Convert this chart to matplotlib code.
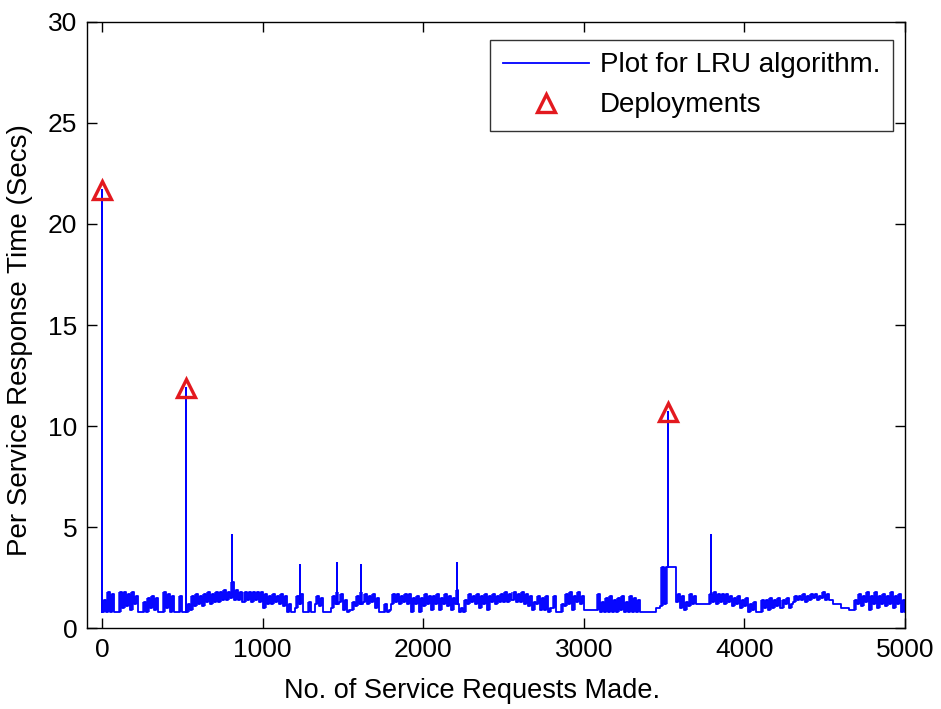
import matplotlib
matplotlib.use("Agg")
import matplotlib.pyplot as plt

plt.rcParams['font.family'] = ['Liberation Sans', 'DejaVu Sans']

# Binned readings: each bin covers 25 requests; lo / hi = low and high response time seen in the bin
bin_width = 25
bin_lo = [
    0.8, 0.8, 0.8, 0.8, 0.8, 1.0, 1.1, 0.9, 1.2, 0.8,
    0.8, 0.8, 1.0, 0.9, 0.8, 0.8, 1.0, 0.8, 0.8, 0.8,
    0.8, 0.8, 0.9, 1.1, 1.2, 1.1, 1.3, 1.2, 1.3, 1.3,
    1.4, 1.4, 1.5, 1.4, 1.4, 1.3, 1.4, 1.3, 1.4, 1.3,
    1.0, 1.2, 1.2, 1.3, 1.2, 1.1, 0.8, 0.8, 1.0, 1.2,
    0.8, 0.8, 0.8, 1.2, 1.1, 0.8, 0.8, 1.0, 1.2, 1.3,
    0.9, 0.8, 0.9, 1.1, 1.2, 1.3, 1.2, 1.3, 1.0, 0.8,
    0.8, 0.8, 1.2, 1.3, 1.2, 1.3, 1.2, 0.8, 1.2, 0.8,
    1.1, 1.2, 0.9, 1.2, 0.9, 1.2, 1.1, 0.9, 1.2, 0.8,
    0.8, 1.2, 1.3, 1.2, 1.0, 1.2, 0.9, 1.3, 1.2, 1.3,
    1.3, 1.3, 1.4, 1.3, 1.3, 1.2, 1.1, 0.9, 1.2, 0.9,
    0.9, 0.8, 1.0, 0.8, 0.8, 1.1, 1.2, 0.9, 1.3, 1.2,
    0.9, 0.9, 0.9, 0.9, 0.8, 0.8, 0.8, 0.8, 0.8, 0.9,
    0.8, 0.8, 0.8, 0.8, 0.8, 0.8, 0.8, 0.8, 1.0, 1.1,
    1.2, 3.0, 3.0, 1.3, 1.0, 0.9, 1.1, 1.2, 1.2, 1.2,
    1.2, 1.2, 1.3, 1.2, 1.3, 1.2, 1.3, 1.1, 1.2, 1.0,
    1.1, 0.8, 0.9, 0.8, 0.8, 1.0, 0.9, 1.0, 1.1, 1.0,
    1.2, 1.0, 1.3, 1.4, 1.4, 1.3, 1.4, 1.5, 1.4, 1.5,
    1.4, 1.4, 1.2, 1.2, 1.0, 1.0, 0.9, 0.9, 1.2, 1.1,
    1.3, 0.9, 1.2, 1.0, 1.2, 1.1, 1.2, 1.0, 1.2, 0.8,
]
bin_hi = [
    1.4, 1.8, 1.7, 0.8, 1.8, 1.8, 1.7, 1.8, 1.6, 0.8,
    1.3, 1.5, 1.6, 1.5, 0.8, 1.8, 1.7, 1.6, 0.8, 1.6,
    0.8, 1.2, 1.6, 1.7, 1.6, 1.7, 1.8, 1.7, 1.8, 1.8,
    1.9, 1.8, 2.3, 1.9, 1.8, 1.8, 1.8, 1.8, 1.8, 1.8,
    1.7, 1.6, 1.7, 1.6, 1.7, 1.6, 1.2, 0.8, 1.6, 1.7,
    0.8, 1.3, 0.8, 1.6, 1.5, 0.8, 0.8, 1.6, 1.8, 1.7,
    1.4, 0.9, 1.3, 1.6, 1.8, 1.7, 1.6, 1.7, 1.5, 0.8,
    1.2, 0.9, 1.7, 1.7, 1.6, 1.7, 1.7, 1.5, 1.6, 1.5,
    1.7, 1.6, 1.6, 1.7, 1.5, 1.7, 1.6, 1.5, 1.9, 1.0,
    1.4, 1.7, 1.6, 1.7, 1.6, 1.7, 1.6, 1.7, 1.6, 1.7,
    1.8, 1.7, 1.8, 1.7, 1.8, 1.7, 1.6, 1.3, 1.6, 1.5,
    1.6, 1.0, 1.6, 0.8, 1.2, 1.7, 1.8, 1.6, 1.8, 1.6,
    0.9, 0.9, 0.9, 1.7, 1.3, 1.5, 1.6, 1.4, 1.5, 1.6,
    1.3, 1.6, 1.5, 1.4, 0.8, 0.8, 0.8, 0.8, 1.0, 3.0,
    3.0, 3.0, 3.0, 1.7, 1.6, 1.3, 1.7, 1.6, 1.2, 1.2,
    1.2, 1.7, 1.8, 1.7, 1.7, 1.7, 1.6, 1.5, 1.6, 1.4,
    1.5, 1.2, 1.3, 0.8, 1.4, 1.4, 1.5, 1.4, 1.5, 1.4,
    1.5, 1.2, 1.6, 1.6, 1.7, 1.6, 1.7, 1.7, 1.6, 1.8,
    1.7, 1.4, 1.2, 1.2, 1.0, 1.0, 0.9, 1.4, 1.7, 1.6,
    1.8, 1.6, 1.8, 1.6, 1.7, 1.6, 1.8, 1.6, 1.7, 1.4,
]

# Isolated spikes (request index, response time)
spike_x = [807, 1230, 1461, 1611, 2212, 3790]
spike_y = [4.6, 3.1, 3.2, 3.1, 3.2, 4.6]

# Deployments (marked with triangles)
deploy_x = [0, 521, 3524]
deploy_y = [21.7, 11.9, 10.7]

# Assemble the series
pts = []
for i, (lo, hi) in enumerate(zip(bin_lo, bin_hi)):
    x0 = i * bin_width
    pts.append((x0, lo))
    pts.append((x0 + bin_width / 2, hi))
pts.append((len(bin_lo) * bin_width, bin_lo[-1]))

def value_at(x):
    v = pts[0][1]
    for px, py in pts:
        if px <= x:
            v = py
        else:
            break
    return v

extra = []
for sx, sy in list(zip(spike_x, spike_y)) + list(zip(deploy_x, deploy_y)):
    base = value_at(sx)
    extra.append((sx + 0.01, sy))
    extra.append((sx + 3, base))
pts = sorted(pts + extra, key=lambda p: p[0])
xs = [p[0] for p in pts]
ys = [p[1] for p in pts]

bin_x = [i * bin_width for i in range(len(bin_lo))] + [len(bin_lo) * bin_width]
fill_lo = bin_lo + [bin_lo[-1]]
fill_hi = bin_hi + [bin_hi[-1]]

fig = plt.figure(figsize=(9.41, 7.09), dpi=100)
ax = fig.add_axes([0.0925, 0.1142, 0.8692, 0.8548])

ax.fill_between(bin_x, fill_lo, fill_hi, step='post', color='#0000ff',
                alpha=0.7, linewidth=0)
ax.plot(xs, ys, color='#0000ff', linewidth=1.3, drawstyle='steps-post',
        label='Plot for LRU algorithm.')
ax.plot(deploy_x, deploy_y, linestyle='none', marker='^', markersize=13,
        markerfacecolor='none', markeredgecolor='#e3191f', markeredgewidth=2.4,
        label='Deployments')

ax.set_xlim(-93, 5000)
ax.set_ylim(0, 30)
ax.set_xticks([0, 1000, 2000, 3000, 4000, 5000])
ax.set_yticks([0, 5, 10, 15, 20, 25, 30])
ax.tick_params(direction='in', length=7, width=1, top=True, right=True,
               labelsize=19, pad=7, colors='black')
for s in ax.spines.values():
    s.set_linewidth(1.0)
    s.set_color('black')

ax.set_xlabel('No. of Service Requests Made.', fontsize=19.5)
ax.set_ylabel('Per Service Response Time (Secs)', fontsize=20)
ax.xaxis.set_label_coords(0.4707, -0.083)
ax.yaxis.set_label_coords(-0.066, 0.475)

leg = ax.legend(loc='upper right', fontsize=20, frameon=True, fancybox=False,
                edgecolor='black', handlelength=3.1, borderpad=0.45,
                labelspacing=0.5, handletextpad=0.4, borderaxespad=0,
                bbox_to_anchor=(0.9853, 0.9703))
leg.get_frame().set_linewidth(1.0)

fig.savefig('out.png', dpi=100, facecolor='white')
